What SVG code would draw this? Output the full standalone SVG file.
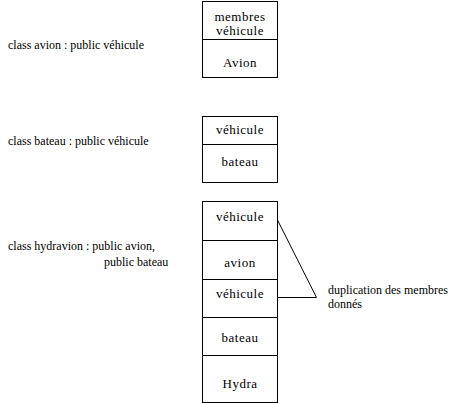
<svg xmlns="http://www.w3.org/2000/svg" width="470" height="404" viewBox="0 0 470 404">
<style>
text{font-family:"Liberation Serif","Times New Roman",serif;font-size:12px;fill:#000}
.c{text-anchor:middle;font-size:13px;letter-spacing:0.5px}
rect,line{fill:none;stroke:#000;stroke-width:1}
</style>
<rect x="0" y="0" width="470" height="404" style="fill:#fff;stroke:none"/>
<g id="label-avion"><text x="8" y="49">class avion : public véhicule</text></g>
<g id="label-bateau"><text x="8" y="145">class bateau : public véhicule</text></g>
<g id="label-hydravion"><text x="8" y="250">class hydravion : public avion,</text><text x="104" y="266">public bateau</text></g>
<g id="box-avion">
<rect x="202.5" y="1.5" width="75" height="76"/>
<line x1="202.5" y1="39.5" x2="277.5" y2="39.5"/>
<text class="c" x="240" y="21">membres</text>
<text class="c" x="240" y="35">véhicule</text>
<text class="c" x="240" y="67">Avion</text>
</g>
<g id="box-bateau">
<rect x="202.5" y="116.5" width="75" height="66"/>
<line x1="202.5" y1="144.5" x2="277.5" y2="144.5"/>
<text class="c" x="240" y="134">véhicule</text>
<text class="c" x="240" y="166">bateau</text>
</g>
<g id="box-hydravion">
<rect x="202.5" y="201.5" width="75" height="201"/>
<line x1="202.5" y1="240.5" x2="277.5" y2="240.5"/>
<line x1="202.5" y1="279.5" x2="277.5" y2="279.5"/>
<line x1="202.5" y1="317.5" x2="277.5" y2="317.5"/>
<line x1="202.5" y1="355.5" x2="277.5" y2="355.5"/>
<text class="c" x="240" y="221">véhicule</text>
<text class="c" x="240" y="267">avion</text>
<text class="c" x="240" y="298">véhicule</text>
<text class="c" x="240" y="342">bateau</text>
<text class="c" x="240" y="388">Hydra</text>
</g>
<g id="connectors">
<line x1="277.5" y1="220" x2="316.5" y2="297.5"/>
<line x1="277.5" y1="297.5" x2="316.5" y2="297.5"/>
</g>
<g id="note"><text x="328" y="294">duplication des membres</text><text x="328" y="307.5">donnés</text></g>
</svg>
